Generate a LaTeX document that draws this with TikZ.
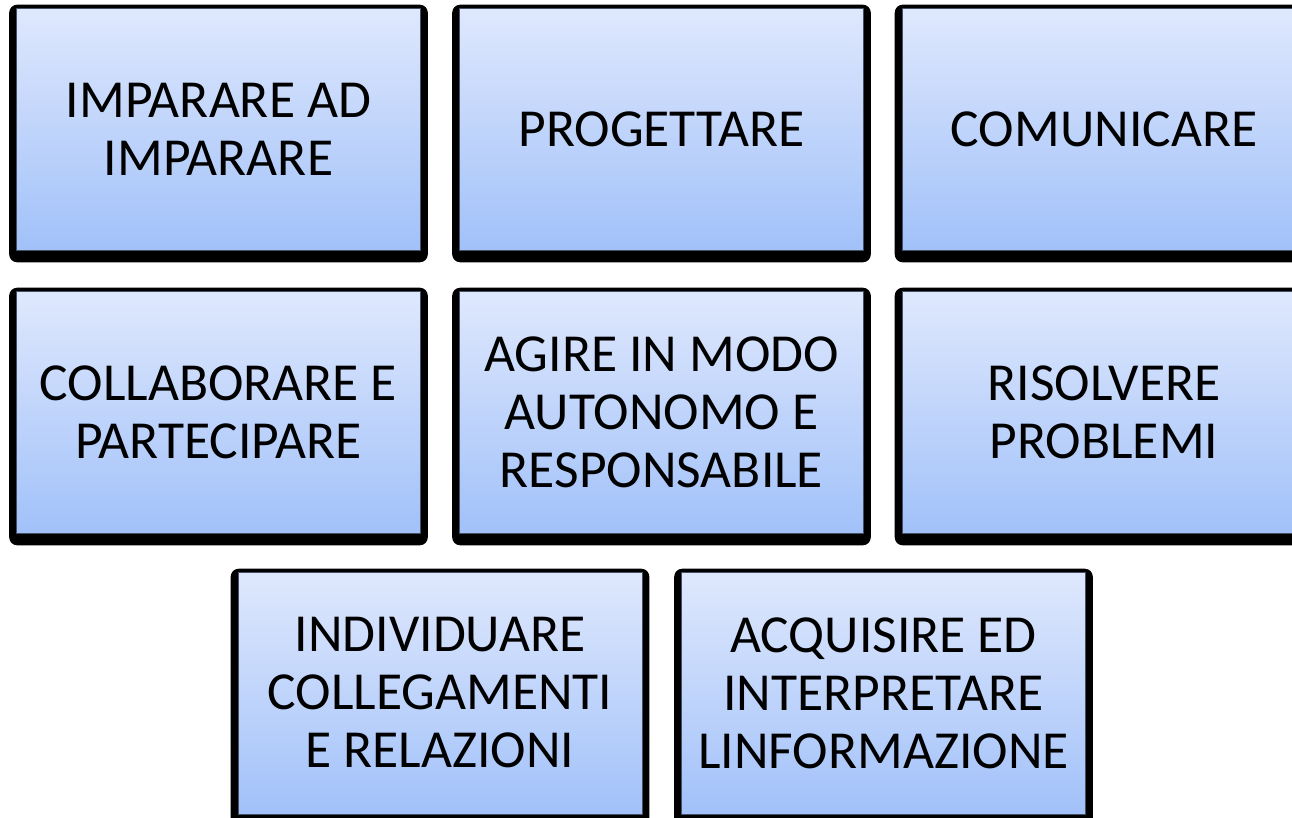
\documentclass[tikz,border=0pt]{standalone}
\usepackage{fontspec}
\setmainfont{Carlito}
\usetikzlibrary{backgrounds}
\definecolor{boxtop}{RGB}{223,232,253}
\definecolor{boxbot}{RGB}{161,193,249}
\definecolor{boxedge}{RGB}{70,80,100}
\tikzset{
  card/.style={rectangle, minimum width=404pt, minimum height=242pt, inner sep=0pt,
    top color=boxtop, bottom color=boxbot, draw=boxedge, line width=0.6pt,
    align=center, font=\fontsize{53.5}{58}\selectfont},
  cardshadow/.style={fill=black, rounded corners=8pt}
}
\newcommand{\cardback}[1]{\fill[cardshadow] ([xshift=-7pt,yshift=3pt]#1.north west) rectangle ([xshift=7pt,yshift=-12pt]#1.south east);}
\begin{document}
\begin{tikzpicture}[x=1pt,y=-1pt]
\useasboundingbox (0,0) rectangle (1292,817);
\clip (0,0) rectangle (1292,817);
\node[card] (a) at (218.5,129) {IMPARARE AD\\IMPARARE};
\node[card] (b) at (661.5,129) {PROGETTARE};
\node[card] (c) at (1104,129) {COMUNICARE};
\node[card] (d) at (218.5,412) {COLLABORARE E\\PARTECIPARE};
\node[card] (e) at (661.5,412) {AGIRE IN MODO\\AUTONOMO E\\RESPONSABILE};
\node[card] (f) at (1104,412) {RISOLVERE\\PROBLEMI};
\node[card] (g) at (440,693) {INDIVIDUARE\\COLLEGAMENTI\\E RELAZIONI};
\node[card] (h) at (883.5,693) {ACQUISIRE ED\\INTERPRETARE\\LINFORMAZIONE};
\begin{pgfonlayer}{background}
\cardback{a}\cardback{b}\cardback{c}\cardback{d}
\cardback{e}\cardback{f}\cardback{g}\cardback{h}
\end{pgfonlayer}
\end{tikzpicture}
\end{document}
